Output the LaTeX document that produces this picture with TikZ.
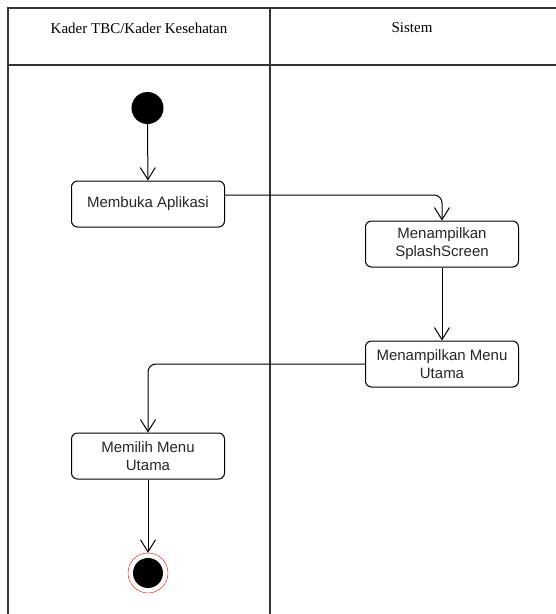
\documentclass[tikz,border=0pt]{standalone}
\usepackage{fontspec}
\setmainfont{Liberation Serif}
\setsansfont{Liberation Sans}
\usetikzlibrary{arrows.meta}

\begin{document}
\begin{tikzpicture}[x=1pt,y=-1pt,
    lane/.style={line width=1.5pt,draw=black!80},
    head/.style={font=\fontsize{15}{18}\selectfont},
    act/.style={draw,rounded corners=6pt,line width=1pt,minimum width=153pt,minimum height=46pt,
      align=center,font=\sffamily\fontsize{15}{18}\selectfont,text=black!85},
    flow/.style={line width=1pt,rounded corners=8pt,
      -{Straight Barb[length=12pt,width=15pt,line width=1pt]}}]
  \useasboundingbox (0,0) rectangle (556,614);
  \draw[lane] (556,8) -- (8,8) -- (8,614) (8,65) -- (556,65) (270,8) -- (270,614);
  \node[head] (kader) at (139,28) {Kader TBC/Kader Kesehatan};
  \node[head] (sistem) at (412,28) {Sistem};
  \node[circle,fill=black,minimum size=32pt,inner sep=0pt] (start) at (147.5,108) {};
  \node[act] (membuka) at (148,204) {Membuka Aplikasi};
  \node[act] (splash) at (442,244) {Menampilkan\\SplashScreen};
  \node[act] (menu) at (442,364) {Menampilkan Menu\\Utama};
  \node[act] (memilih) at (148,456) {Memilih Menu\\Utama};
  \node[circle,draw=red,fill=white,minimum size=40pt,inner sep=0pt] (end) at (148,573) {};
  \fill (end.center) circle (15pt);
  \draw[flow] (start) -- (membuka);
  \draw[flow] ([yshift=9pt]membuka.east) -| (splash);
  \draw[flow] (splash) -- (menu);
  \draw[flow] (menu) -| (memilih);
  \draw[flow] (memilih) -- (end);
\end{tikzpicture}
\end{document}
